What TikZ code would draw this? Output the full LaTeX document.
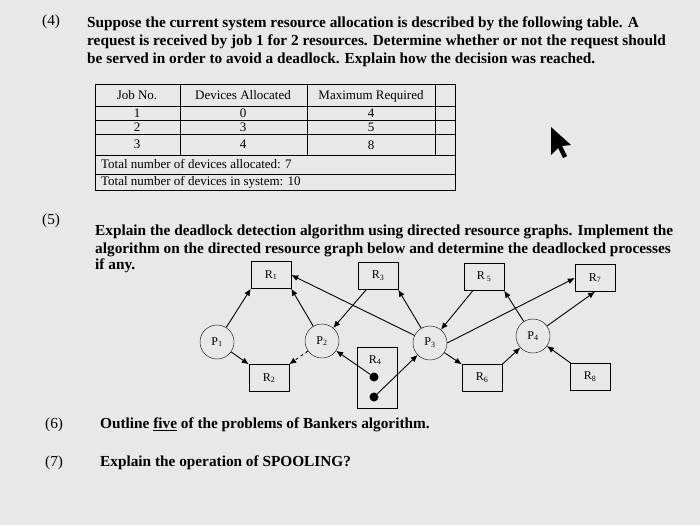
\documentclass[tikz,border=0pt]{standalone}
\usepackage{fontspec}
\setmainfont{Liberation Serif}
\usetikzlibrary{arrows.meta}
\begin{document}
\begin{tikzpicture}[x=1pt,y=-1pt,
  txt/.style={anchor=west,inner sep=0pt,font=\fontsize{15.3}{17}\selectfont},
  ttxt/.style={inner sep=0pt,font=\fontsize{13}{15}\selectfont},
  res/.style={draw,minimum width=40pt,minimum height=27pt,inner sep=0pt,font=\fontsize{12}{14}\selectfont},
  proc/.style={draw,circle,minimum size=34pt,inner sep=0pt,font=\fontsize{12}{14}\selectfont},
  arr/.style={-{Latex[length=7pt,width=6pt]},line width=0.9pt},
  dot/.style={circle,fill=black,minimum size=9pt,inner sep=0pt}]
\fill[gray!18] (0,0) rectangle (700,525);
\useasboundingbox (0,0) rectangle (700,525);
% question 4
\node[txt] (q4) at (42,22) {(4)};
\node[txt] (l1) at (87,24) {\textbf{Suppose the current system resource allocation is described by the following table. A}};
\node[txt] (l2) at (87,42) {\textbf{request is received by job 1 for 2 resources. Determine whether or not the request should}};
\node[txt] (l3) at (87,60) {\textbf{be served in order to avoid a deadlock. Explain how the decision was reached.}};
% table
\draw[line width=0.8pt] (95,84) rectangle (455,190);
\foreach \y in {106,120,134,155,174} \draw (95,\y) -- (455,\y);
\draw (180,84) -- (180,155);
\draw (307,84) -- (307,155);
\draw (435,84) -- (435,155);
\node[ttxt] (h1) at (137,95) {Job No.};
\node[ttxt] (h2) at (243,95) {Devices Allocated};
\node[ttxt] (h3) at (371,96) {Maximum Required};
\node[ttxt] (a1) at (137,113) {1}; \node[ttxt] (b1) at (243,113) {0}; \node[ttxt] (c1) at (371,113) {4};
\node[ttxt] (a2) at (137,127) {2}; \node[ttxt] (b2) at (243,127) {3}; \node[ttxt] (c2) at (371,127) {5};
\node[ttxt] (a3) at (137,144) {3}; \node[ttxt] (b3) at (243,144) {4}; \node[ttxt] (c3) at (371,145) {8};
\node[ttxt,anchor=west] (t1) at (101,164) {Total number of devices allocated: 7};
\node[ttxt,anchor=west] (t2) at (101,182) {Total number of devices in system: 10};
% cursor
\fill (551,127) -- (551,155) -- (558,148) -- (563,158) -- (567,156) -- (562,146) -- (571,145) -- cycle;
% question 5
\node[txt] (q5) at (42,221) {(5)};
\node[txt] (m1) at (95,232) {\textbf{Explain the deadlock detection algorithm using directed resource graphs. Implement the}};
\node[txt] (m2) at (95,250) {\textbf{algorithm on the directed resource graph below and determine the deadlocked processes}};
\node[txt] (m3) at (95,266) {\textbf{if any.}};
% graph
\node[res] (R1) at (271,275) {R\textsubscript{1}};
\node[res] (R3) at (378,276) {R\textsubscript{3}};
\node[res] (R5) at (484,277) {R\,\textsubscript{5}};
\node[res] (R7) at (595,278) {R\textsubscript{7}};
\node[res] (R2) at (269,378) {R\textsubscript{2}};
\node[res] (R6) at (482,378) {R\textsubscript{6}};
\node[res] (R8) at (590,377) {R\textsubscript{8}};
\node[draw,minimum width=40pt,minimum height=61pt,inner sep=0pt] (R4) at (377,378) {};
\node[font=\fontsize{12}{14}\selectfont] (R4l) at (375,360) {R\textsubscript{4}};
\node[dot] (d1) at (374,377) {};
\node[dot] (d2) at (374,397) {};
\node[proc] (P1) at (217,342) {P\textsubscript{1}};
\node[proc] (P2) at (322,341) {P\textsubscript{2}};
\node[proc] (P3) at (430,343) {P\textsubscript{3}};
\node[proc] (P4) at (533,336) {P\textsubscript{4}};
\draw[arr] (P1) -- (R1.south west);
\draw[arr] (P1) -- (R2.north west);
\draw[arr] (P2) -- (R1.south east);
\draw[arr] (R3) -- (P2);
\draw[arr,dashed] (P2) -- (R2.north east);
\draw[arr] (P3) -- (R1.east);
\draw[arr] (P3) -- (R3.south east);
\draw[arr] (R5) -- (P3);
\draw[arr] (P3.east) -- (R7.west);
\draw[arr] (P3) -- (R6.north west);
\draw[arr] (d1) -- (P2);
\draw[arr] (d2) -- (P3);
\draw[arr] (R6.north east) -- (P4);
\draw[arr] (P4) -- (R5.south east);
\draw[arr] (P4) -- (R7.south);
\draw[arr] (R8) -- (P4);
% questions 6, 7
\node[txt] (q6) at (45,425) {(6)};
\node[txt] (n6) at (100,425) {\textbf{Outline \underline{five} of the problems of Bankers algorithm.}};
\node[txt] (q7) at (45,463) {(7)};
\node[txt] (n7) at (100,463) {\textbf{Explain the operation of SPOOLING?}};
\end{tikzpicture}
\end{document}
